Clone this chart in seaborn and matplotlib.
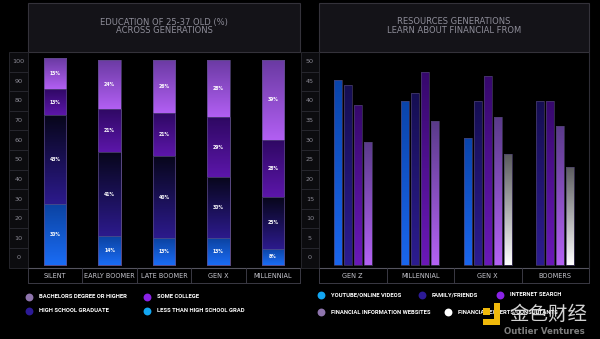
import numpy as np
import pandas as pd
import matplotlib
matplotlib.use("Agg")
import matplotlib.pyplot as plt
from matplotlib.colors import to_rgb
from matplotlib.patches import Rectangle, Polygon
import seaborn as sns

# ---- education by generation (stacked %, bottom to top) ----
generations = ["SILENT", "EARLY BOOMER", "LATE BOOMER", "GEN X", "MILLENNIAL"]
less_than_hs = [30, 14, 13, 13, 8]
hs_graduate = [43, 41, 40, 30, 25]
some_college = [13, 21, 21, 29, 28]
bachelors_plus = [15, 24, 26, 28, 39]
edu_ticks = ["0", "10", "20", "30", "40", "50", "60", "70", "80", "90", "100"]

# ---- where each generation learns about finance (%) ----
groups = ["GEN Z", "MILLENNIAL", "GEN X", "BOOMERS"]
youtube = [45, 40, 31, None]
family = [44, 42, 40, 40]
internet = [39, 47, 46, 40]
websites = [30, 35, 36, 34]
experts = [None, None, 27, 24]
res_ticks = ["0", "5", "10", "15", "20", "25", "30", "35", "40", "45", "50"]

sns.set_theme(style="dark")
plt.rcParams["font.family"] = ["DejaVu Sans", "Noto Sans CJK SC"]

W, H = 600, 339
fig = plt.figure(figsize=(6, 3.39), dpi=100, facecolor="black")

BG_BOX = "#141318"
BOX_EDGE = "#34323a"
CELL_FILL = "#0c0c0f"
CELL_EDGE = "#2a2a31"
TICK_TXT = "#8c8b96"
TITLE_TXT = "#8e8d99"


def axes_px(x0, y0, x1, y1):
    return fig.add_axes([x0 / W, 1 - y1 / H, (x1 - x0) / W, (y1 - y0) / H])


def paint(ax, patch, top, bottom, lo, hi, z):
    """Fill a bar patch with a vertical colour gradient between lo and hi."""
    x0, w = patch.get_x(), patch.get_width()
    t = np.linspace(0, 1, 128)[:, None]
    rgb = (1 - t) * np.array(to_rgb(top)) + t * np.array(to_rgb(bottom))
    im = ax.imshow(rgb[:, None, :], extent=[x0, x0 + w, lo, hi], origin="upper",
                   aspect="auto", interpolation="bilinear", zorder=z)
    im.set_clip_path(patch)
    patch.set_facecolor("none")
    patch.set_zorder(z + 0.01)


# background layer in pixel coordinates for boxes, cells and legends
frame = fig.add_axes([0, 0, 1, 1])
frame.set_xlim(0, W)
frame.set_ylim(H, 0)
frame.axis("off")
frame.patch.set_alpha(0)


def title_box(x0, x1, lines):
    frame.add_patch(Rectangle((x0, 3), x1 - x0, 49, fc=BG_BOX, ec=BOX_EDGE, lw=0.8))
    xc = (x0 + x1) / 2
    for i, line in enumerate(lines):
        frame.text(xc, 22 + i * 8.5, line, ha="center", va="center",
                   fontsize=6.0, color=TITLE_TXT)


def tick_column(x0, x1, labels):
    n = len(labels)
    ch = (267.6 - 52) / n
    for k in range(n):
        y_top = 52 + k * ch
        frame.add_patch(Rectangle((x0, y_top), x1 - x0, ch, fc=CELL_FILL,
                                  ec=CELL_EDGE, lw=0.6))
        frame.text((x0 + x1) / 2, y_top + ch / 2, labels[n - 1 - k],
                   ha="center", va="center", fontsize=4.6, color=TICK_TXT)


def category_cells(x0, x1, n):
    frame.plot([x0, x1], [268, 268], color="#55545f", lw=0.8)
    frame.plot([x0, x1], [283, 283], color="#3a3944", lw=0.7)
    for k in range(n + 1):
        xx = x0 + k * (x1 - x0) / n
        frame.plot([xx, xx], [268, 283], color="#3a3944", lw=0.7)


title_box(28, 300, ["EDUCATION OF 25-37 OLD (%)", "ACROSS GENERATIONS"])
title_box(319, 589, ["RESOURCES GENERATIONS", "LEARN ABOUT FINANCIAL FROM"])
tick_column(9, 28, edu_ticks)
tick_column(301, 319, res_ticks)
category_cells(28, 300, len(generations))
category_cells(319, 589, len(groups))
frame.plot([589, 589], [52, 268], color="#2e2d36", lw=0.8)


def style_axes(ax):
    ax.set_facecolor("none")
    for s in ax.spines.values():
        s.set_visible(False)
    ax.grid(False)
    ax.set_yticks([])
    ax.set_xlabel("")
    ax.set_ylabel("")
    ax.tick_params(axis="x", length=0, pad=3.6, labelsize=4.7, labelcolor="#c6c6ce")


# ---------------- left: stacked education bars ----------------
axL = axes_px(28, 52, 300, 268)
layers = [
    ("BACHELORS DEGREE OR HIGHER", bachelors_plus, "#8e74ad", "#6a3aa2", "#b25ff3"),
    ("SOME COLLEGE", some_college, "#8a22e6", "#2e0862", "#5c16aa"),
    ("HIGH SCHOOL GRADUATE", hs_graduate, "#2c1a96", "#07061a", "#2c1a8c"),
    ("LESS THAN HIGH SCHOOL GRAD", less_than_hs, "#12a6f2", "#0b42a0", "#1a6cf5"),
]
bottom_up = [less_than_hs, hs_graduate, some_college, bachelors_plus]
cum = np.cumsum(np.array(bottom_up, dtype=float), axis=0)  # rows bottom->top

for li, (name, vals, legc, ctop, cbot) in enumerate(layers):
    level = 3 - li
    hi = cum[level]
    lo = cum[level - 1] if level > 0 else np.zeros(len(generations))
    before = len(axL.patches)
    sns.barplot(x=generations, y=hi, order=generations, color=legc, width=0.41,
                saturation=1, errorbar=None, edgecolor="#5a4a82", linewidth=0.5,
                ax=axL)
    for i, p in enumerate(axL.patches[before:]):
        paint(axL, p, ctop, cbot, lo[i], hi[i], 2 + li * 0.2)
        axL.text(i, (lo[i] + hi[i]) / 2, f"{vals[i]}%", ha="center", va="center",
                 fontsize=3.3, color="white", fontweight="bold", zorder=10)

axL.set_xlim(-0.5, 4.5)
axL.set_ylim(-1.46, 103.9)
style_axes(axL)
axL.set_xticks(range(len(generations)))
axL.set_xticklabels(generations)

# ---------------- right: grouped resource bars ----------------
axR = axes_px(319, 52, 589, 268)
sources = ["YOUTUBE/ONLINE VIDEOS", "FAMILY/FRIENDS", "INTERNET SEARCH",
           "FINANCIAL INFORMATION WEBSITES", "FINANCIAL EXPERTS/CONSULTANTS"]
series = [youtube, family, internet, websites, experts]
legend_cols = ["#12a6f2", "#2c1a96", "#8a22e6", "#8e74ad", "#ffffff"]
grad_cols = [("#0a44aa", "#1a66ee"), ("#150e52", "#2c1c90"), ("#36086c", "#6a18b8"),
             ("#5a3a8a", "#b462f4"), ("#5a5a5e", "#ffffff")]

rows = []
step = 0.148
for g in range(len(groups)):
    present = [s for s in range(len(sources)) if series[s][g] is not None]
    n = len(present)
    for j, s in enumerate(present):
        rows.append({"pos": round(g + (j - (n - 1) / 2) * step, 4),
                     "share": series[s][g], "source": sources[s]})
df = pd.DataFrame(rows)

sns.barplot(data=df, x="pos", y="share", hue="source", hue_order=sources,
            palette=dict(zip(sources, legend_cols)), native_scale=True, dodge=False,
            width=0.8, saturation=1, errorbar=None, legend=False,
            edgecolor="#4a3f6a", linewidth=0.5, ax=axR)

for p in list(axR.patches):
    xc = p.get_x() + p.get_width() / 2
    row = df.iloc[(df["pos"] - xc).abs().argmin()]
    top, bot = grad_cols[sources.index(row["source"])]
    paint(axR, p, top, bot, 0, row["share"], 2)

axR.set_xlim(-0.5, 3.5)
axR.set_ylim(-0.73, 51.95)
style_axes(axR)
axR.set_xticks(range(len(groups)))
axR.set_xticklabels(groups)

# ---------------- legends ----------------
def legend_item(x, y, label, color):
    frame.scatter([x], [y], s=32, color=color, linewidths=0, zorder=5)
    frame.text(x + 10, y, label, ha="left", va="center", fontsize=4.2,
               color="white", fontweight="bold", family=["Roboto", "DejaVu Sans"],
               zorder=5)

left_leg = [(29, 297, 0), (147, 297, 1), (29, 311, 2), (147, 311, 3)]
for x, y, k in left_leg:
    legend_item(x, y, layers[k][0], layers[k][2])

right_leg = [(321, 295, 0), (422, 295, 1), (500, 295, 2), (321, 312, 3), (448, 312, 4)]
for x, y, k in right_leg:
    legend_item(x, y, sources[k], legend_cols[k])

# ---------------- watermark ----------------
frame.add_patch(Polygon([[494, 303], [500, 303], [500, 325], [483, 325], [483, 319],
                         [494, 319]], closed=True, fc="#f0b90b", ec="none", zorder=6))
frame.add_patch(Rectangle((483, 308), 7, 7, fc="#f0b90b", ec="none", zorder=6))
frame.text(509, 314, "金色财经", ha="left", va="center", fontsize=14,
           color="#e4e4e4", family=["Noto Sans CJK SC"], zorder=6, alpha=0.92)
frame.text(504, 332, "Outlier Ventures", ha="left", va="center", fontsize=6.2,
           color="#7e7e7e", fontweight="bold", zorder=6)

fig.savefig("out.png", dpi=100, facecolor="black")
